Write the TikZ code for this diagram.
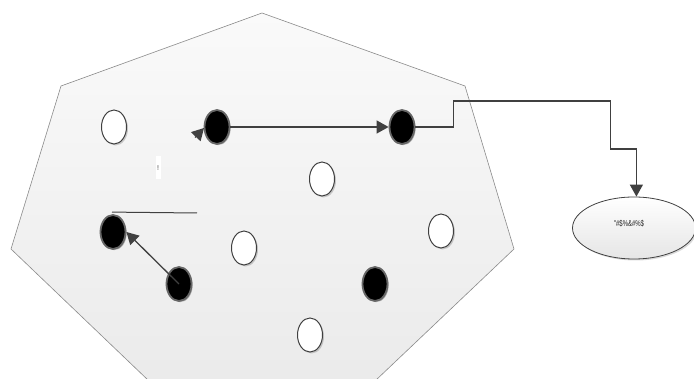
\documentclass[tikz,border=0pt]{standalone}
\usepackage{fontspec}
\newfontfamily\lbl{Liberation Sans}
\usetikzlibrary{arrows.meta,shapes.geometric,shadows}
\definecolor{ln}{HTML}{404040}
\definecolor{rim}{HTML}{8A8A8A}
\tikzset{
  whitedot/.style={ellipse,draw=ln,line width=1pt,fill=white,minimum width=25pt,minimum height=34pt,inner sep=0pt,
    drop shadow={shadow xshift=1.5pt,shadow yshift=-1.5pt,opacity=0.18,fill=black}},
  blackdot/.style={ellipse,draw=black!60,line width=1.8pt,fill=black,minimum width=25pt,minimum height=34pt,inner sep=0pt,
    drop shadow={shadow xshift=1.2pt,shadow yshift=-1.2pt,opacity=0.25,fill=black}},
  conn/.style={draw=ln,line width=1.3pt},
  arr/.style={conn,-{Triangle[length=12pt,width=13pt]}},
}
\begin{document}
\begin{tikzpicture}[x=1pt,y=-1pt]
\useasboundingbox (0,0) rectangle (694,379);
\clip (0,0) rectangle (694,379);
% heptagon
\path[draw=rim,line width=0.6pt,top color=white!98!black,bottom color=white!92!black]
  (262,13) -- (465,86) -- (514,249) -- (375,381) -- (149,381) -- (11,249) -- (61,86) -- cycle;
% dots
\node[whitedot] (w1) at (114,127) {};
\node[blackdot] (b2) at (217,127) {};
\node[blackdot] (b3) at (402,127) {};
\node[whitedot] (w4) at (322,179) {};
\node[blackdot] (b5) at (113,232) {};
\node[whitedot] (w6) at (244,248) {};
\node[whitedot] (w7) at (441,231) {};
\node[blackdot] (b8) at (179,284) {};
\node[blackdot] (b9) at (375,284) {};
\node[whitedot] (w10) at (310,335) {};
% label
\node[fill=white,inner sep=0pt,minimum width=5pt,minimum height=23pt,text=ln,font=\lbl\fontsize{7}{7}\selectfont] (ex) at (158,168) {!};
% target ellipse
\node[ellipse,draw=ln,line width=0.8pt,top color=white,bottom color=white!90!black,minimum width=123pt,minimum height=62pt,inner sep=0pt,
  drop shadow={shadow xshift=1.5pt,shadow yshift=-1.5pt,opacity=0.15,fill=black}] (tgt) at (634,228) {};
\node[font=\lbl\fontsize{8.5}{8.5}\selectfont,xscale=0.7,text=black!85] (tt) at (629,224) {"\#\$\%\&\#\%\$};
% connectors
\draw[arr] (b2) -- (b3);
\draw[arr] (b3.east) -- ++(38,0) -- ++(0,-26) -- ++(157,0) -- ++(0,48) -- ++(26,0) coordinate (k) -- (k |- tgt.north);
\draw[arr] (b8.center) -- (b5.east);
\coordinate (lineend) at (197,213);
\draw[conn,line width=1pt] (b5.north) ++(-1,-2) -- (lineend);
\coordinate (ta) at (195,137.5);
\coordinate (tb) at (204,128);
\draw[arr] (ta) -- (tb);
\end{tikzpicture}
\end{document}
